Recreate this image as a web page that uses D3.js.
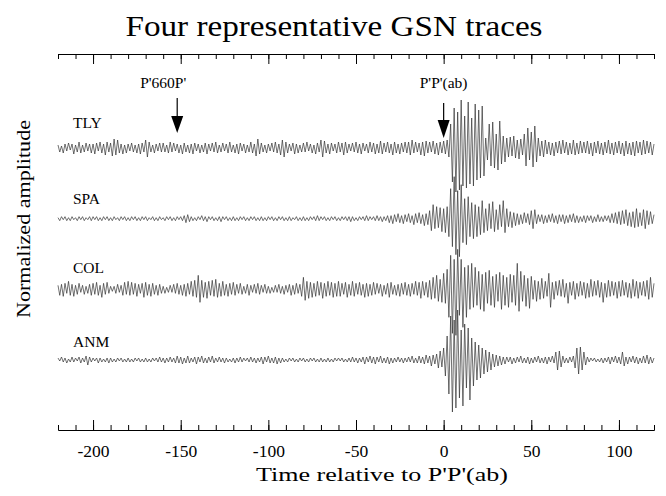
<!DOCTYPE html>
<html>
<head>
<meta charset="utf-8">
<script src="https://cdn.jsdelivr.net/npm/d3@7"></script>
<style>
  body { margin: 0; background: #fff; }
  svg text { font-family: "Liberation Serif", "DejaVu Serif", serif; fill: #000; }
  .trace { fill: none; stroke: #333; stroke-width: 0.7; }
  .axis path, .axis line { stroke: #000; stroke-width: 1; }
</style>
</head>
<body>
<svg width="666" height="496"></svg>
<script>
// station names, top to bottom
const stations = ["TLY", "SPA", "COL", "ANM"];

// sample times in seconds relative to P'P'(ab), 1 s spacing
const times = d3.range(-220, 121);

// trace samples (arbitrary normalized units, + is up)
const tly = [
  3,-4,2,-5,4,-3,5,-2,4,-6,3,-4,6,-5,3,-4,5,-3,4,-5,
  4,-6,5,-3,6,-5,4,-7,6,-4,5,-8,9,-7,8,-5,4,-6,3,-5,
  4,-3,5,-4,3,-5,4,-6,5,-4,8,-9,6,-4,3,-5,4,-3,5,-4,
  5,-4,3,-5,6,-4,5,-3,4,-5,3,-6,5,-4,3,-5,4,-6,5,-3,
  4,-5,3,-4,5,-6,4,-3,5,-4,6,-5,3,-4,5,-3,4,-5,6,-4,
  3,-5,4,-6,5,-3,4,-5,3,-4,6,-5,4,-8,9,-6,5,-4,3,-5,
  4,-3,5,-4,6,-5,4,-7,8,-9,6,-5,4,-3,5,-6,4,-5,3,-4,
  5,-4,6,-3,4,-5,3,-6,5,-4,8,-9,7,-5,4,-6,5,-3,4,-5,
  6,-4,5,-7,6,-5,4,-3,5,-4,6,-5,4,-6,5,-3,4,-5,6,-4,
  5,-6,4,-5,7,-6,5,-4,6,-5,4,-7,6,-5,4,-6,5,-4,6,-5,
  6,-7,8,-5,6,-4,5,-7,6,-8,7,-5,6,-4,7,-6,5,-7,6,-5,
  7,-6,8,-9,24,-34,40,-44,36,-42,48,-38,32,-40,46,-36,30,-38,44,-32,
  38,-30,42,-28,10,-12,24,-18,26,-20,14,-22,27,-16,12,-14,10,-9,11,-8,
  12,-10,8,-11,9,-7,14,-18,20,-12,16,-19,22,-14,10,-8,7,-9,8,-6,
  6,-7,5,-8,6,-5,7,-6,8,-5,6,-7,5,-6,8,-7,5,-6,7,-5,
  6,-5,7,-6,5,-8,6,-5,7,-6,5,-7,6,-5,8,-6,5,-7,6,-5,
  7,-6,5,-8,7,-6,5,-7,6,-8,7,-5,6,-7,8,-6,7,-5,6,-7,
  4
];
const spa = [
  1,-2,2,-1,2,-2,1,-2,2,-1,1,-2,2,-1,2,-2,1,-1,2,-2,
  2,-1,2,-2,1,-2,2,-1,2,-2,1,-2,2,-1,1,-2,2,-1,2,-2,
  1,-2,2,-1,2,-2,1,-2,2,-1,2,-2,1,-1,2,-2,1,-2,2,-1,
  1,-2,2,-1,2,-2,1,-2,2,-1,2,-2,3,-4,4,-3,2,-2,1,-2,
  2,-1,3,-2,2,-3,2,-1,2,-2,1,-2,2,-3,2,-1,2,-2,1,-2,
  2,-2,1,-2,2,-1,2,-2,1,-2,2,-1,2,-2,1,-2,2,-2,1,-2,
  2,-1,2,-2,1,-2,2,-1,2,-2,1,-2,2,-2,1,-1,2,-2,1,-2,
  2,-2,1,-2,2,-1,2,-2,3,-2,2,-1,2,-2,1,-2,2,-1,2,-2,
  1,-2,2,-1,2,-2,2,-3,2,-2,1,-2,2,-1,2,-2,3,-2,2,-1,
  2,-2,3,-2,2,-3,2,-2,3,-4,3,-5,4,-3,5,-4,3,-5,4,-3,
  5,-4,3,-6,5,-4,6,-5,4,-7,5,-6,8,-12,14,-10,12,-9,11,-13,
  10,-14,12,-18,30,-28,42,-36,28,-38,34,-24,20,-26,22,-18,16,-20,14,-18,
  12,-16,18,-14,10,-12,15,-10,17,-13,9,-11,14,-8,18,-14,10,-8,7,-9,
  6,-7,5,-6,4,-5,6,-4,5,-6,8,-10,9,-5,4,-3,4,-5,3,-4,
  4,-3,5,-4,3,-5,4,-3,4,-5,3,-4,4,-3,5,-4,3,-4,2,-3,
  3,-4,3,-2,3,-4,2,-3,4,-3,2,-3,3,-2,3,-4,5,-4,6,-5,
  7,-6,8,-5,9,-7,6,-8,7,-9,10,-8,6,-7,9,-10,8,-6,7,-5,
  4
];
const col = [
  4,-6,5,-7,6,-4,8,-6,5,-7,4,-5,6,-3,4,-5,3,-4,5,-6,
  6,-5,7,-6,4,-8,6,-5,7,-4,3,-2,3,-4,5,-3,4,-6,7,-5,
  8,-6,7,-5,6,-7,5,-4,6,-8,7,-6,5,-7,6,-5,4,-6,5,-4,
  3,-4,2,-3,4,-3,5,-4,6,-5,4,-6,5,-7,6,-5,8,-7,9,-8,
  14,-13,9,-8,7,-9,8,-6,9,-7,10,-8,6,-7,8,-6,5,-7,6,-5,
  7,-6,5,-4,6,-5,3,-4,5,-6,4,-3,5,-4,6,-5,4,-3,5,-4,
  3,-4,2,-3,4,-3,5,-4,3,-5,4,-3,5,-6,4,-5,6,-4,5,-7,
  12,-11,8,-9,7,-8,6,-7,8,-6,7,-9,6,-7,8,-6,7,-8,6,-7,
  8,-7,6,-5,7,-8,5,-6,8,-7,6,-5,7,-6,5,-8,6,-7,5,-6,
  7,-5,6,-4,5,-7,4,-5,6,-8,7,-5,4,-6,5,-7,6,-5,7,-6,
  5,-7,6,-5,8,-6,7,-9,8,-6,7,-8,9,-10,12,-9,14,-12,10,-13,
  16,-14,20,-28,34,-44,30,-46,40,-26,30,-38,22,-28,24,-20,26,-18,22,-16,
  18,-20,15,-22,17,-14,19,-16,13,-18,15,-12,17,-20,14,-16,12,-18,15,-13,
  14,-16,26,-22,18,-12,14,-17,11,-19,13,-10,9,-12,8,-10,11,-9,8,-7,
  16,-18,7,-10,8,-6,9,-7,10,-8,6,-14,7,-6,8,-10,6,-7,8,-6,
  7,-9,6,-8,10,-7,8,-6,9,-8,7,-13,6,-8,9,-7,8,-6,7,-9,
  8,-7,9,-6,7,-8,6,-9,10,-7,8,-9,7,-6,8,-7,9,-10,12,-8,
  6
];
const anm = [
  2,-1,3,-2,2,-3,1,-2,3,-2,2,-1,3,-3,2,-2,4,-5,3,-2,
  2,-1,2,-3,2,-2,1,-2,2,-3,2,-2,1,-2,2,-1,2,-2,1,-2,
  2,-2,1,-2,2,-1,2,-2,1,-2,2,-2,1,-2,2,-1,2,-2,3,-2,
  2,-3,2,-2,3,-2,2,-3,4,-3,3,-4,2,-3,4,-3,2,-2,3,-4,
  3,-2,4,-3,2,-3,3,-2,4,-3,2,-2,3,-2,2,-3,2,-2,1,-2,
  2,-3,2,-2,3,-2,2,-1,2,-2,3,-2,2,-3,2,-2,3,-4,3,-2,
  4,-3,2,-3,3,-4,2,-3,2,-2,1,-2,2,-1,2,-2,1,-2,2,-1,
  2,-2,1,-2,2,-1,2,-2,1,-2,2,-2,1,-2,2,-2,1,-2,2,-1,
  2,-1,2,-2,1,-2,2,-2,3,-2,2,-3,2,-2,3,-4,3,-2,4,-3,
  3,-4,3,-2,4,-3,2,-3,3,-4,2,-3,2,-2,3,-2,2,-3,2,-2,
  3,-2,4,-3,2,-3,4,-3,3,-4,5,-3,4,-6,5,-4,6,-8,9,-7,
  12,-16,24,-34,44,-52,40,-48,50,-38,30,-46,36,-28,32,-40,22,-26,18,-20,
  15,-18,12,-14,10,-12,8,-10,6,-7,5,-6,4,-5,3,-4,3,-2,3,-4,
  2,-3,3,-2,4,-3,2,-3,3,-4,2,-3,3,-2,4,-3,2,-3,3,-4,
  3,-2,4,-3,8,-10,9,-7,4,-3,2,-3,3,-2,4,-8,12,-14,13,-10,
  8,-5,3,-2,2,-1,2,-2,1,-2,2,-3,2,-2,3,-4,3,-2,4,-3,
  3,-4,8,-6,3,-4,3,-2,4,-3,3,-4,2,-3,4,-3,5,-4,3,-3,
  2
];
const traces = [tly, spa, col, anm];

// phase arrows: label, arrival time, label anchor time
const phaseNames = ["P'660P'", "P'P'(ab)"];
const phaseTimes = [-152, 0];
const phaseLabelTimes = [-160, 0];

const majorTicks = d3.range(-200, 101, 50);
const minorTicks = d3.range(-220, 121, 10);

const svg = d3.select("svg");

const x = d3.scaleLinear().domain([-220, 120]).range([58, 654]);
const row = d3.scaleLinear().domain([0, 3]).range([148, 360]);
const amp = d3.scaleLinear().domain([-50, 50]).range([50, -50]);
const labelDy = [-20, -15, -16, -13];

// title
svg.append("text")
  .attr("x", 334).attr("y", 36)
  .attr("text-anchor", "middle")
  .attr("textLength", 417).attr("lengthAdjust", "spacingAndGlyphs")
  .style("font-size", "30px")
  .text("Four representative GSN traces");

// axes: top and bottom, ticks pointing inwards
function addAxis(y, gen) {
  return svg.append("g")
    .attr("class", "axis")
    .attr("transform", `translate(0,${y})`)
    .call(gen);
}
const topY = 54, botY = 430;

addAxis(topY, d3.axisTop(x).tickValues(minorTicks).tickSize(-5).tickSizeOuter(0).tickFormat(""));
addAxis(topY, d3.axisTop(x).tickValues(majorTicks).tickSize(-10).tickSizeOuter(0).tickFormat(""));
addAxis(botY, d3.axisBottom(x).tickValues(minorTicks).tickSize(-5).tickSizeOuter(0).tickFormat(""));
addAxis(botY, d3.axisBottom(x).tickValues(majorTicks).tickSize(-10).tickSizeOuter(0)
    .tickPadding(15).tickFormat(d => String(d)))
  .call(g => g.selectAll("text").style("font-size", "17.5px").style("font-family", null));

// axis titles
svg.append("text")
  .attr("x", 382).attr("y", 481)
  .attr("text-anchor", "middle")
  .attr("textLength", 252).attr("lengthAdjust", "spacingAndGlyphs")
  .style("font-size", "19px")
  .text("Time relative to P'P'(ab)");

svg.append("text")
  .attr("transform", "translate(30,219) rotate(-90)")
  .attr("text-anchor", "middle")
  .attr("textLength", 198).attr("lengthAdjust", "spacingAndGlyphs")
  .style("font-size", "19px")
  .text("Normalized amplitude");

// traces
const line = d3.line()
  .x((d, i) => x(times[i]))
  .y(d => amp(d));

traces.forEach((tr, k) => {
  const g = svg.append("g").attr("transform", `translate(0,${row(k)})`);
  g.append("path").attr("class", "trace").attr("d", line(tr));
  g.append("text")
    .attr("x", 73).attr("y", labelDy[k])
    .style("font-size", "15.5px")
    .text(stations[k]);
});

// phase arrows
phaseNames.forEach((name, i) => {
  const ax = x(phaseTimes[i]);
  const top = i === 0 ? 98 : 103;
  const headTop = i === 0 ? 116 : 120;
  const tip = i === 0 ? 133 : 138;
  svg.append("line")
    .attr("x1", ax).attr("x2", ax)
    .attr("y1", top).attr("y2", headTop + 2)
    .attr("stroke", "#000").attr("stroke-width", 1.2);
  svg.append("path")
    .attr("d", `M${ax - 6},${headTop}L${ax + 6},${headTop}L${ax},${tip}Z`)
    .attr("fill", "#000");
  svg.append("text")
    .attr("x", x(phaseLabelTimes[i])).attr("y", 88)
    .attr("text-anchor", "middle")
    .style("font-size", "15.5px")
    .text(name);
});
</script>
</body>
</html>
